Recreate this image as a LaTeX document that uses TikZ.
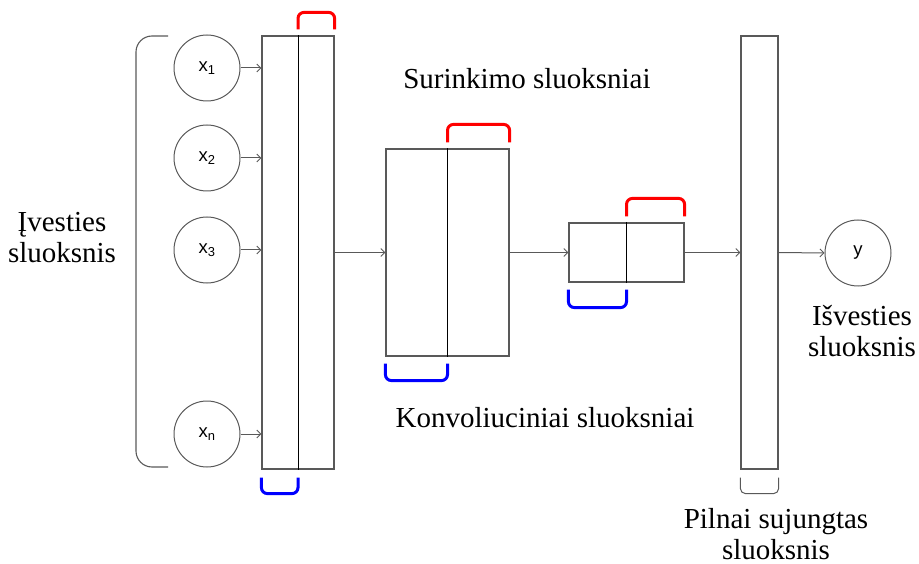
\documentclass[tikz,border=0pt]{standalone}
\usepackage{fontspec}
\setmainfont{Liberation Serif}
\setsansfont{Liberation Sans}
\usetikzlibrary{arrows.meta,calc}
\definecolor{linegray}{HTML}{595959}
\begin{document}
\begin{tikzpicture}[x=1pt,y=-1pt,
  neuron/.style={circle,draw=linegray,line width=1pt,minimum size=66pt,inner sep=0pt,
    font=\sffamily\fontsize{18.5}{18.5}\selectfont},
  layer/.style={rectangle,draw=linegray,line width=1.2pt,inner sep=0pt,fill=white},
  divider/.style={black,line width=0.9pt},
  conn/.style={draw=linegray,line width=1pt,-{Straight Barb[length=4pt,width=8pt,line width=0.9pt]}},
  redbr/.style={draw=red,line width=3pt,rounded corners=6pt},
  bluebr/.style={draw=blue,line width=3pt,rounded corners=6pt},
  graybr/.style={draw=linegray,line width=1pt,rounded corners=5pt},
  lbl/.style={font=\fontsize{29}{31}\selectfont,align=center,inner sep=0pt}
]
\useasboundingbox (0,0) rectangle (919,564);

% input bracket
\draw[draw=linegray,line width=1.1pt,rounded corners=16pt]
  (168,36) -- (136,36) -- (136,467) -- (168,467);

% input neurons
\node[neuron] (x1) at (207,68) {x\textsubscript{1}};
\node[neuron] (x2) at (207,158) {x\textsubscript{2}};
\node[neuron] (x3) at (207,250) {x\textsubscript{3}};
\node[neuron] (xn) at (207,434) {x\textsubscript{n}};

% layers
\node[layer,minimum width=72pt,minimum height=433pt] (L1) at (298,252.5) {};
\node[layer,minimum width=123pt,minimum height=207pt] (L2) at (447.5,252.5) {};
\node[layer,minimum width=115pt,minimum height=59pt] (L3) at (626.5,252.5) {};
\node[layer,minimum width=37pt,minimum height=433pt] (L4) at (759.5,252.5) {};
\node[neuron] (y) at (858,253) {y};

\draw[divider] (L1.north) -- (L1.south);
\draw[divider] (L2.north) -- (L2.south);
\draw[divider] (L3.north) -- (L3.south);

% connectors
\foreach \n in {x1,x2,x3,xn}
  \draw[conn] (\n.east) -- (\n.east -| L1.west);
\draw[conn] (L1.east) -- (L2.west);
\draw[conn] (L2.east) -- (L3.west);
\draw[conn] (L3.east) -- (L4.west);
\draw[conn] (L4.east) -- (y.west);

% pooling brackets (red) and convolution brackets (blue)
\draw[redbr] ([yshift=6pt]L1.north) -- ++(0,-17) -| ([yshift=6pt]L1.north east);
\draw[redbr] ([yshift=6pt]L2.north) -- ++(0,-18) -| ([yshift=6pt]L2.north east);
\draw[redbr] ([yshift=6pt]L3.north) -- ++(0,-18) -| ([yshift=6pt]L3.north east);
\draw[bluebr] ([yshift=-8pt]L1.south west) -- ++(0,16) -| ([yshift=-8pt]L1.south);
\draw[bluebr] ([yshift=-7pt]L2.south west) -- ++(0,17) -| ([yshift=-7pt]L2.south);
\draw[bluebr] ([yshift=-7pt]L3.south west) -- ++(0,18) -| ([yshift=-7pt]L3.south);
\draw[graybr] ([yshift=-8pt]L4.south west) -- ++(0,16) -| ([yshift=-8pt]L4.south east);

% labels
\node[lbl] (tin) at (62,238) {Įvesties\\sluoksnis};
\node[lbl] (tpool) at (527,79) {Surinkimo sluoksniai};
\node[lbl] (tconv) at (545,418) {Konvoliuciniai sluoksniai};
\node[lbl] (tout) at (862,331) {Išvesties\\sluoksnis};
\node[lbl] (tfc) at (776,534) {Pilnai sujungtas\\sluoksnis};
\end{tikzpicture}
\end{document}
